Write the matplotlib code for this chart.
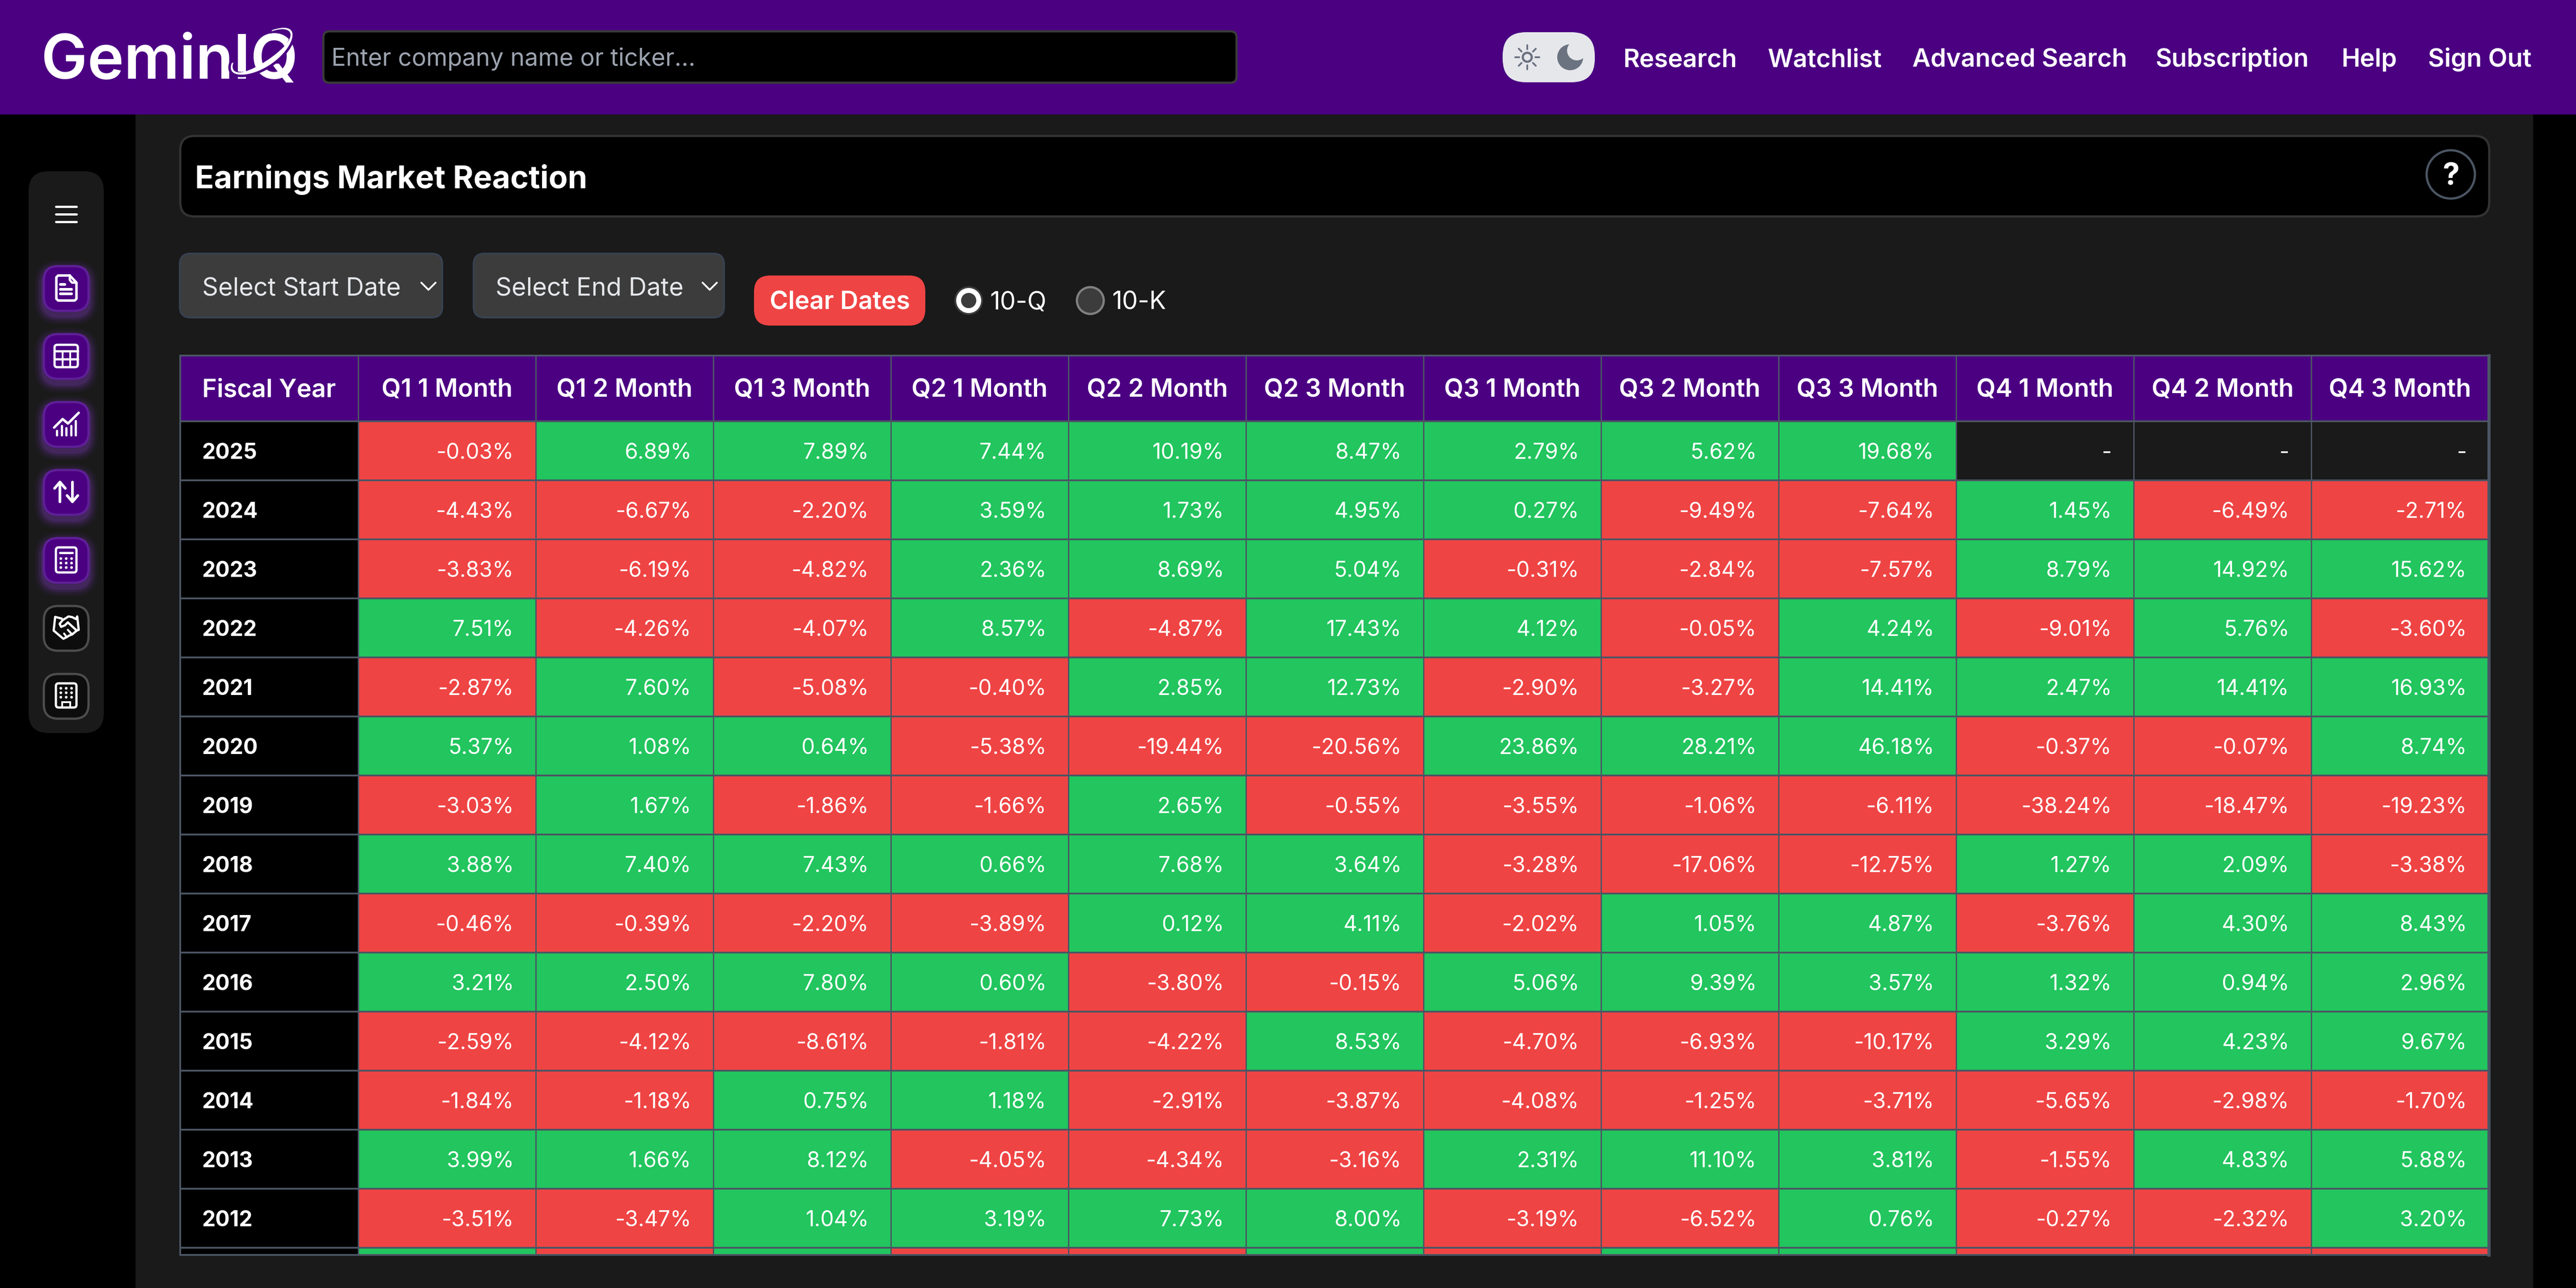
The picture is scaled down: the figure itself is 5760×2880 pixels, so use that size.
"""
Earnings Market Reaction - tela do GeminIQ recriada com matplotlib.
"""

import numpy as np
import matplotlib
matplotlib.use("Agg")
import matplotlib.pyplot as plt
from matplotlib.colors import BoundaryNorm, ListedColormap
from matplotlib.patches import Circle, FancyBboxPatch, Polygon, Rectangle

# ============================================================================ #
# DADOS
# ============================================================================ #

colunas = ["Q1 1 Month", "Q1 2 Month", "Q1 3 Month",
           "Q2 1 Month", "Q2 2 Month", "Q2 3 Month",
           "Q3 1 Month", "Q3 2 Month", "Q3 3 Month",
           "Q4 1 Month", "Q4 2 Month", "Q4 3 Month"]

anos = [2025, 2024, 2023, 2022, 2021, 2020, 2019,
        2018, 2017, 2016, 2015, 2014, 2013, 2012]

valores_2025 = [-0.03, 6.89, 7.89, 7.44, 10.19, 8.47, 2.79, 5.62, 19.68, np.nan, np.nan, np.nan]
valores_2024 = [-4.43, -6.67, -2.20, 3.59, 1.73, 4.95, 0.27, -9.49, -7.64, 1.45, -6.49, -2.71]
valores_2023 = [-3.83, -6.19, -4.82, 2.36, 8.69, 5.04, -0.31, -2.84, -7.57, 8.79, 14.92, 15.62]
valores_2022 = [7.51, -4.26, -4.07, 8.57, -4.87, 17.43, 4.12, -0.05, 4.24, -9.01, 5.76, -3.60]
valores_2021 = [-2.87, 7.60, -5.08, -0.40, 2.85, 12.73, -2.90, -3.27, 14.41, 2.47, 14.41, 16.93]
valores_2020 = [5.37, 1.08, 0.64, -5.38, -19.44, -20.56, 23.86, 28.21, 46.18, -0.37, -0.07, 8.74]
valores_2019 = [-3.03, 1.67, -1.86, -1.66, 2.65, -0.55, -3.55, -1.06, -6.11, -38.24, -18.47, -19.23]
valores_2018 = [3.88, 7.40, 7.43, 0.66, 7.68, 3.64, -3.28, -17.06, -12.75, 1.27, 2.09, -3.38]
valores_2017 = [-0.46, -0.39, -2.20, -3.89, 0.12, 4.11, -2.02, 1.05, 4.87, -3.76, 4.30, 8.43]
valores_2016 = [3.21, 2.50, 7.80, 0.60, -3.80, -0.15, 5.06, 9.39, 3.57, 1.32, 0.94, 2.96]
valores_2015 = [-2.59, -4.12, -8.61, -1.81, -4.22, 8.53, -4.70, -6.93, -10.17, 3.29, 4.23, 9.67]
valores_2014 = [-1.84, -1.18, 0.75, 1.18, -2.91, -3.87, -4.08, -1.25, -3.71, -5.65, -2.98, -1.70]
valores_2013 = [3.99, 1.66, 8.12, -4.05, -4.34, -3.16, 2.31, 11.10, 3.81, -1.55, 4.83, 5.88]
valores_2012 = [-3.51, -3.47, 1.04, 3.19, 7.73, 8.00, -3.19, -6.52, 0.76, -0.27, -2.32, 3.20]

# Linha seguinte (2011) cortada pelo scroll: so aparece a cor
sinais_2011 = [1, -1, 1, -1, -1, 1, -1, 1, 1, -1, -1, -1]

menu_nav = ["Research", "Watchlist", "Advanced Search", "Subscription", "Help", "Sign Out"]

# ============================================================================ #
# CORES E AJUDANTES
# ============================================================================ #

ROXO = "#4b0082"
FUNDO = "#1a1a1a"
VERMELHO = "#ef4444"
VERDE = "#22c55e"
BORDA = "#4b5563"

plt.rcParams["font.family"] = ["Inter", "DejaVu Sans"]

LARGURA, ALTURA = 5760, 2880
fig = plt.figure(figsize=(LARGURA / 100, ALTURA / 100), dpi=100, facecolor="black")

# Eixo em pixels para o "cromo" da pagina
ax = fig.add_axes([0, 0, 1, 1])
ax.set_xlim(0, LARGURA)
ax.set_ylim(ALTURA, 0)
ax.axis("off")


def px(valor):
    """Converte pixels da imagem para pontos (dpi=100)."""
    return valor * 0.72


def caixa(x0, y0, x1, y1, raio, cor, borda="none", lw=0, z=2, alpha=None):
    p = FancyBboxPatch((x0, y0), x1 - x0, y1 - y0,
                       boxstyle=f"round,pad=0,rounding_size={raio}",
                       fc=cor, ec=borda, lw=px(lw), zorder=z, alpha=alpha)
    ax.add_patch(p)


def traco(xs, ys, lw=5, cor="white", z=6):
    ax.plot(xs, ys, color=cor, lw=px(lw), zorder=z,
            solid_capstyle="round", solid_joinstyle="round")


def traco_zoom(ox, oy, pontos, lw=5):
    """Desenha um traco com pontos medidos num recorte ampliado 3x."""
    arr = np.array(pontos) / 3
    traco(ox + arr[:, 0], oy + arr[:, 1], lw)


def texto(x, y, s, tam, peso="normal", cor="white", ha="left"):
    ax.text(x, y, s, fontsize=px(tam), fontweight=peso, color=cor,
            ha=ha, va="baseline", zorder=7)


# ============================================================================ #
# FUNDO E CABECALHO
# ============================================================================ #

ax.add_patch(Rectangle((303, 256), 5664 - 303, ALTURA - 256, fc=FUNDO, ec="none", zorder=1))
ax.add_patch(Rectangle((0, 0), LARGURA, 256, fc=ROXO, ec="none", zorder=1))

# Logo
texto(92, 175, "GeminIQ", 138, "semibold")
t = np.radians(np.linspace(-55, 208, 200))
u = np.array([0.83, -0.56])
v = np.array([0.56, 0.83])
espessura = 1 + 10 * np.clip(np.sin(np.clip(t, 0, np.pi)), 0, 1)
externo = np.array([585, 114]) + np.outer(80 * np.cos(t), u) + np.outer((30 + espessura / 2) * np.sin(t), v)
interno = np.array([585, 114]) + np.outer(76 * np.cos(t), u) + np.outer((30 - espessura / 2) * np.sin(t), v)
ax.plot(*externo.T, color=ROXO, lw=px(12), zorder=8)
ax.add_patch(Polygon(np.vstack([externo, interno[::-1]]), fc="white", ec="white", lw=0.5, zorder=9))

# Busca
caixa(723, 70, 2765, 185, 14, "black", "#3a3a3a", 5)
texto(741, 147, "Enter company name or ticker...", 54, cor="#9ca3af")

# Alternador claro/escuro
caixa(3360, 72, 3566, 184, 52, "#e5e7eb")
ax.add_patch(Circle((3415, 128), 10, fc="none", ec="#6b7280", lw=px(5), zorder=6))
for ang in np.radians(np.arange(0, 360, 45)):
    traco([3415 + 18 * np.cos(ang), 3415 + 27 * np.cos(ang)],
          [128 + 18 * np.sin(ang), 128 + 27 * np.sin(ang)], 4, "#6b7280")
ax.add_patch(Circle((3511, 128), 29, fc="#6b7280", ec="none", zorder=6))
ax.add_patch(Circle((3526, 113), 22, fc="#e5e7eb", ec="none", zorder=6))

# Navegacao
for x, nome in zip([3630, 3953, 4276, 4819, 5236, 5429], menu_nav):
    texto(x, 149, nome, 56, "semibold")

# ============================================================================ #
# BARRA LATERAL
# ============================================================================ #

caixa(64, 383, 232, 1639, 44, FUNDO)
for y in [462, 479, 496]:
    traco([125, 171], [y, y], 5)

for i in range(5):
    topo = 593 + 152 * i
    for folga, a in [(20, 0.05), (15, 0.08), (10, 0.12), (5, 0.18)]:
        caixa(97 - folga, topo - folga + 9, 199 + folga, topo + 104 + folga + 9, 34 + folga,
              "#8b3fd0", z=3, alpha=a)
    caixa(98, topo + 2, 198, topo + 102, 32, ROXO, "#5e2096", 5, z=4)
for i in range(5, 7):
    topo = 593 + 152 * i
    caixa(98, topo + 2, 198, topo + 102, 32, "#0d0d0d", "#4d4d4d", 5, z=4)

# Documento
traco([156, 130, 126, 126, 130, 167, 171, 171, 156], [616, 616, 620, 668, 672, 672, 668, 632, 616], 5.5)
traco([156, 156, 161, 171], [616, 626, 632, 632], 5)
traco([135, 145], [636, 636], 6)
traco([135, 160], [647, 647], 6)
traco([135, 160], [657, 657], 6)

# Tabela
caixa(122, 771, 174, 821, 6, "none", "white", 5, z=6)
traco([122, 174], [785, 785], 5)
traco([122, 174], [803, 803], 5)
traco([140, 140], [785, 821], 4)
traco([157, 157], [785, 821], 4)

# Grafico
for x, y in zip([127, 138, 148, 159, 169], [963, 952, 957, 952, 941]):
    traco([x, x], [y, 973], 5)
traco([121, 140, 152, 176], [956, 937, 947, 923], 5.5)

# Setas
traco([134, 134], [1122, 1078], 6)
traco([122, 134, 146], [1092, 1078, 1092], 6)
traco([162, 162], [1078, 1122], 6)
traco([150, 162, 174], [1108, 1122, 1108], 6)

# Calculadora
caixa(125, 1224, 171, 1280, 6, "none", "white", 5, z=6)
traco([134, 162], [1236, 1236], 5)
for lin in [1249, 1259, 1269]:
    for col in [136, 148, 160]:
        ax.add_patch(Circle((col, lin), 3, fc="white", ec="none", zorder=6))

# Aperto de maos
traco_zoom(90, 1345, [(145, 115), (100, 103), (90, 195), (155, 250), (175, 240),
                      (195, 228), (215, 220), (245, 195), (185, 140), (165, 160),
                      (140, 170), (130, 150), (150, 125), (190, 100), (215, 105),
                      (240, 118), (248, 100), (258, 190), (245, 195)])
traco_zoom(90, 1345, [(185, 190), (215, 222)], 4.5)
traco_zoom(90, 1345, [(160, 215), (178, 240)], 4.5)

# Predio
caixa(125, 1528, 171, 1582, 6, "none", "white", 5, z=6)
for lin in [1539, 1549, 1559]:
    for col in [136, 148, 160]:
        ax.add_patch(Circle((col, lin), 3, fc="white", ec="none", zorder=6))
ax.add_patch(Rectangle((139, 1570), 18, 12, fc="none", ec="white", lw=px(4), zorder=6))

# ============================================================================ #
# TITULO E FILTROS
# ============================================================================ #

caixa(403, 304, 5566, 484, 32, "black", "#333333", 5)
texto(436, 421, "Earnings Market Reaction", 70, "bold")
ax.add_patch(Circle((5480, 390), 54, fc="black", ec=BORDA, lw=px(5), zorder=5))
texto(5480, 414, "?", 68, "bold", ha="center")

for x0, x1, rotulo, xtexto, xchev in [(402, 989, "Select Start Date", 452, 958),
                                      (1059, 1619, "Select End Date", 1108, 1587)]:
    caixa(x0, 567, x1, 710, 24, "#3c3c3c", "#374151", 4)
    texto(xtexto, 661, rotulo, 56, cor="#e5e7eb")
    traco([xchev - 16, xchev, xchev + 16], [632, 648, 632], 4)

caixa(1686, 616, 2069, 728, 36, VERMELHO)
texto(1877.5, 692, "Clear Dates", 56, "semibold", ha="center")

ax.add_patch(Circle((2166, 672), 32, fc="#3c3c3c", ec="none", zorder=3))
ax.add_patch(Circle((2166, 672), 28, fc="white", ec="none", zorder=4))
ax.add_patch(Circle((2166, 672), 17, fc="#3c3c3c", ec="none", zorder=5))
texto(2213, 692, "10-Q", 56)
ax.add_patch(Circle((2438, 672), 30, fc="#3c3c3c", ec="#808080", lw=px(5), zorder=4))
texto(2486, 692, "10-K", 56)

# ============================================================================ #
# TABELA
# ============================================================================ #

tabela = np.array([valores_2025, valores_2024, valores_2023, valores_2022, valores_2021,
                   valores_2020, valores_2019, valores_2018, valores_2017, valores_2016,
                   valores_2015, valores_2014, valores_2013, valores_2012, sinais_2011])

LINHA_PX = 132
COLUNA_PX = 397
ANO_LARG = 398 / COLUNA_PX      # coluna dos anos, em unidades de coluna
CAB_ALT = 147 / LINHA_PX        # cabecalho, em unidades de linha
RESTO = 16 / LINHA_PX           # pedaco visivel da linha de 2011

axt = fig.add_axes([403 / LARGURA, 1 - 2806 / ALTURA, (5565 - 403) / LARGURA, (2806 - 795) / ALTURA],
                   zorder=2)
axt.set_xlim(-ANO_LARG, 12)
axt.set_ylim(14 + RESTO, -CAB_ALT)
axt.axis("off")

# Celulas: a cor vem do sinal do valor
mapa = ListedColormap([VERMELHO, VERDE])
mapa.set_bad(FUNDO)
y_bordas = np.append(np.arange(15), 14 + RESTO)
axt.pcolormesh(np.arange(13), y_bordas, np.ma.masked_invalid(np.sign(tabela)),
               cmap=mapa, norm=BoundaryNorm([-2, 0, 2], 2), zorder=1)
axt.add_patch(Rectangle((-ANO_LARG, 0), ANO_LARG, 14 + RESTO, fc="black", ec="none", zorder=1))
axt.add_patch(Rectangle((-ANO_LARG, -CAB_ALT), ANO_LARG + 12, CAB_ALT, fc=ROXO, ec="none", zorder=1))

# Grade
for y in np.append(np.arange(15), [-CAB_ALT, 14 + RESTO]):
    axt.axhline(y, color=BORDA, lw=px(4), zorder=3, clip_on=False)
for x in range(12):
    axt.axvline(x, color=BORDA, lw=px(3), zorder=2, clip_on=False)
axt.axvline(-ANO_LARG, color=BORDA, lw=px(4), zorder=3, clip_on=False)
axt.axvline(12, color=BORDA, lw=px(7), zorder=3, clip_on=False)

# Textos do cabecalho
BASE_CAB = 19 / LINHA_PX
axt.text(-ANO_LARG / 2, -CAB_ALT / 2 + BASE_CAB, "Fiscal Year", fontsize=px(56), fontweight="semibold",
         color="white", ha="center", va="baseline", zorder=5)
for j, nome in enumerate(colunas):
    axt.text(j + 0.5, -CAB_ALT / 2 + BASE_CAB, nome, fontsize=px(56), fontweight="semibold",
             color="white", ha="center", va="baseline", zorder=5)

# Textos das linhas
RECUO = 49 / COLUNA_PX
BASE_LIN = 18 / LINHA_PX
for i, ano in enumerate(anos):
    axt.text(-ANO_LARG + 48 / COLUNA_PX, i + 0.5 + BASE_LIN, str(ano), fontsize=px(48), fontweight="bold",
             color="white", ha="left", va="baseline", zorder=5)
    for j in range(12):
        valor = tabela[i, j]
        rotulo = "-" if np.isnan(valor) else f"{valor:.2f}%"
        axt.text(j + 1 - RECUO, i + 0.5 + BASE_LIN, rotulo, fontsize=px(48),
                 color="white", ha="right", va="baseline", zorder=5)

fig.savefig("out.png", dpi=100, facecolor="black")
